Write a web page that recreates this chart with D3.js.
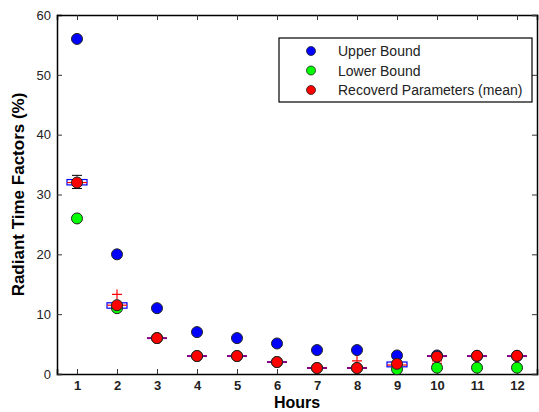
<!DOCTYPE html>
<html><head><meta charset="utf-8">
<script src="https://cdn.jsdelivr.net/npm/d3@7"></script>
<style>body{margin:0;background:#fff}svg{display:block;font-family:Arial,"Liberation Sans",sans-serif}</style>
</head><body><svg id="c" width="539" height="412"></svg>
<script>
const hours = [1,2,3,4,5,6,7,8,9,10,11,12];
const upperBound = [56,20,11,7,6,5.1,4,4,3.1,3.1,3,3];
const lowerBound = [26,11,6,3,3,2,1,1,0.8,1.05,1.05,1.05];
const recoveredMean = [32,11.5,6,3,3,2,1,1,1.7,2.9,3.05,3.05];
// boxplot summaries of recovered parameters
const boxQ1 = [31.6,11.0,6,3,3,2,1,1,1.2,3,3,3];
const boxQ3 = [32.5,11.9,6,3,3,2,1,1,2.0,3,3,3];
const boxMedian = [32,11.5,6,3,3,2,1,1,1.5,3,3,3];
const whiskerLow = [31.0,11.0,6,3,3,2,1,1,1.2,3,3,3];
const whiskerHigh = [33.2,11.9,6,3,3,2,1,1,2.0,3,3,3];
const outliers = [[2,13.3],[8,2.2],[10,2.5],[10,2.2],[10,1.8]];
const yTicks = [0,10,20,30,40,50,60];
const legendLabels = ["Upper Bound","Lower Bound","Recoverd Parameters (mean)"];
const colors = ["#0000ff","#00ff00","#ff0000"];

const svg = d3.select("#c");
const L=57, R=537, T=15, B=374;
const x = d3.scaleLinear().domain([0.5,12.5]).range([L,R]);
const y = d3.scaleLinear().domain([0,60]).range([B,T]);

// axes
const gx = svg.append("g").attr("transform",`translate(0,${B})`)
  .call(d3.axisBottom(x).tickValues(hours).tickSize(-5).tickPadding(7).tickFormat(d3.format("d")));
const gy = svg.append("g").attr("transform",`translate(${L},0)`)
  .call(d3.axisLeft(y).tickValues(yTicks).tickSize(-5).tickPadding(6));
svg.append("g").attr("transform",`translate(0,${T})`)
  .call(d3.axisTop(x).tickValues(hours).tickSize(-5).tickFormat(""));
svg.append("g").attr("transform",`translate(${R},0)`)
  .call(d3.axisRight(y).tickValues(yTicks).tickSize(-5).tickFormat(""));
svg.selectAll(".domain").attr("stroke","#000").attr("stroke-width",1.5);
svg.selectAll(".tick line").attr("stroke","#333");
svg.selectAll(".tick text").attr("font-size",13).attr("fill","#222").attr("font-family","Arial,'Liberation Sans',sans-serif");
gx.selectAll(".tick text").attr("font-weight","bold").attr("font-size",13);

// boxplots
const bw = 20, cw = 10;
const bp = svg.append("g");
hours.forEach((h,i)=>{
  const cx = x(h);
  const collapsed = boxQ1[i]===boxQ3[i];
  if (whiskerHigh[i]>boxQ3[i]) {
    bp.append("line").attr("x1",cx).attr("x2",cx).attr("y1",y(boxQ3[i])).attr("y2",y(whiskerHigh[i])).attr("stroke","#000").attr("stroke-dasharray","2,1");
    bp.append("line").attr("x1",cx-cw/2).attr("x2",cx+cw/2).attr("y1",y(whiskerHigh[i])).attr("y2",y(whiskerHigh[i])).attr("stroke","#000");
  }
  if (whiskerLow[i]<boxQ1[i]) {
    bp.append("line").attr("x1",cx).attr("x2",cx).attr("y1",y(boxQ1[i])).attr("y2",y(whiskerLow[i])).attr("stroke","#000").attr("stroke-dasharray","2,1");
    bp.append("line").attr("x1",cx-cw/2).attr("x2",cx+cw/2).attr("y1",y(whiskerLow[i])).attr("y2",y(whiskerLow[i])).attr("stroke","#000");
  }
  if (!collapsed) {
    bp.append("rect").attr("x",cx-bw/2).attr("width",bw).attr("y",y(boxQ3[i])).attr("height",y(boxQ1[i])-y(boxQ3[i]))
      .attr("fill","none").attr("stroke","#0000ff").attr("stroke-width",1.2);
  }
  bp.append("line").attr("x1",cx-bw/2).attr("x2",cx+bw/2).attr("y1",y(boxMedian[i])).attr("y2",y(boxMedian[i]))
    .attr("stroke",collapsed?"#800080":"#ff0000").attr("stroke-width",collapsed?2:1.2);
});
outliers.forEach(([h,v])=>{
  const cx=x(h), cy=y(v);
  bp.append("path").attr("d",`M${cx-5},${cy}H${cx+5}M${cx},${cy-5}V${cy+5}`).attr("stroke","#ff0000").attr("stroke-width",1.2);
});

// points
[upperBound,lowerBound,recoveredMean].forEach((arr,k)=>{
  svg.append("g").selectAll("circle").data(arr).join("circle")
    .attr("cx",(d,i)=>x(hours[i])).attr("cy",d=>y(d)).attr("r",5.5)
    .attr("fill",colors[k]).attr("stroke","#222").attr("stroke-width",1);
});

// legend
const lg = svg.append("g");
lg.append("rect").attr("x",279).attr("y",38).attr("width",253).attr("height",64).attr("fill","#fff").attr("stroke","#000").attr("stroke-width",1.2);
legendLabels.forEach((t,k)=>{
  const yy = 51 + k*19.5;
  lg.append("circle").attr("cx",311).attr("cy",yy).attr("r",4.5).attr("fill",colors[k]).attr("stroke","#222").attr("stroke-width",0.8);
  lg.append("text").attr("x",338).attr("y",yy+5).attr("font-size",14).attr("fill","#222").text(t);
});

// titles
svg.append("text").attr("x",(L+R)/2).attr("y",408).attr("text-anchor","middle").attr("font-weight","bold").attr("font-size",16).text("Hours");
svg.append("text").attr("transform",`translate(24,${(T+B)/2}) rotate(-90)`).attr("text-anchor","middle").attr("font-weight","bold").attr("font-size",17).text("Radiant Time Factors (%)");
</script></body></html>
